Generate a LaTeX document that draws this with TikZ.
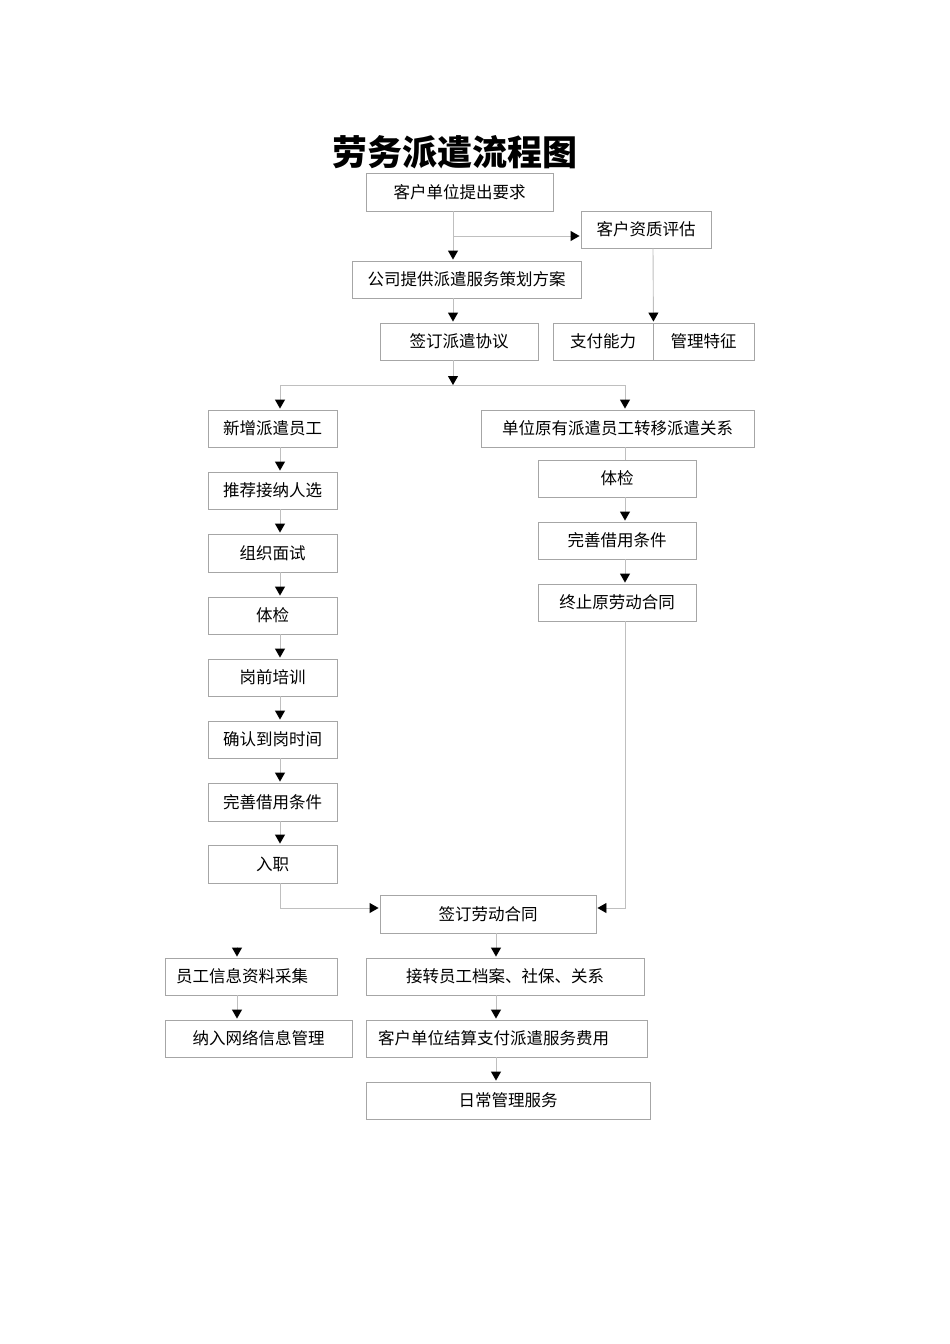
\documentclass[tikz,border=0pt]{standalone}
\usepackage{fontspec}
\setmainfont{Noto Sans CJK SC}
\newfontfamily\cjk{Noto Sans CJK SC}
\usetikzlibrary{arrows.meta}
\definecolor{boxline}{HTML}{A6A6A6}
\definecolor{conn}{HTML}{BFBFBF}
\tikzset{
  box/.style={draw=boxline, line width=0.9pt, inner sep=0pt, minimum height=37pt, font=\cjk\fontsize{16.5}{18}\selectfont},
  arr/.style={draw=conn, line width=0.9pt, -{Triangle[width=10pt,length=9pt,color=black,fill=black]}, shorten >=1pt},
  ln/.style={draw=conn, line width=0.9pt}
}
\begin{document}
\begin{tikzpicture}[x=1pt,y=-1pt]
\useasboundingbox (0,0) rectangle (950,1344);
\node[font=\cjk\bfseries\fontsize{35}{38}\selectfont] (title) at (455,152) {劳务派遣流程图};
\node[box, minimum width=187pt, minimum height=38pt] (n1) at (459.5,192) {客户单位提出要求};
\node[box, minimum width=130pt] (n2) at (646,229.5) {客户资质评估};
\node[box, minimum width=229pt] (n3) at (466.5,279.5) {公司提供派遣服务策划方案};
\node[box, minimum width=158pt] (n4) at (459,341.5) {签订派遣协议};
\node[box, minimum width=100pt] (n5a) at (603,341.5) {支付能力};
\node[box, minimum width=101pt] (n5b) at (703.5,341.5) {管理特征};
\node[box, minimum width=129pt] (n6) at (272.5,428.5) {新增派遣员工};
\node[box, minimum width=273pt] (n7) at (617.5,428.5) {单位原有派遣员工转移派遣关系};
\node[box, minimum width=129pt] (n8) at (272.5,490.5) {推荐接纳人选};
\node[box, minimum width=158pt] (n9) at (617,478.5) {体检};
\node[box, minimum width=129pt, minimum height=38pt] (n10) at (272.5,553) {组织面试};
\node[box, minimum width=158pt] (n11) at (617,540.5) {完善借用条件};
\node[box, minimum width=129pt] (n12) at (272.5,615.5) {体检};
\node[box, minimum width=158pt] (n13) at (617,602.5) {终止原劳动合同};
\node[box, minimum width=129pt] (n14) at (272.5,677.5) {岗前培训};
\node[box, minimum width=129pt] (n15) at (272.5,739.5) {确认到岗时间};
\node[box, minimum width=129pt, minimum height=38pt] (n16) at (272.5,802) {完善借用条件};
\node[box, minimum width=129pt, minimum height=38pt] (n17) at (272.5,864) {入职};
\node[box, minimum width=216pt, minimum height=38pt] (n18) at (488,914) {签订劳动合同};
\node[box, minimum width=172pt, text width=150pt, align=left] (n19) at (251,976.5) {员工信息资料采集};
\node[box, minimum width=278pt] (n20) at (505,976.5) {接转员工档案、社保、关系};
\node[box, minimum width=187pt] (n21) at (258.5,1038.5) {纳入网络信息管理};
\node[box, minimum width=281pt, text width=257pt, align=left] (n22) at (506.5,1038.5) {客户单位结算支付派遣服务费用};
\node[box, minimum width=284pt] (n23) at (508,1100.5) {日常管理服务};
% helper coordinates
\coordinate (xA) at (453,0);
\coordinate (xB) at (653,0);
\coordinate (xL) at (280,0);
\coordinate (xR) at (625,0);
\coordinate (xM) at (496,0);
\coordinate (xS) at (237,0);
\coordinate (yT) at (0,236);
\coordinate (yS) at (0,385);
\coordinate (yC) at (0,908);
\coordinate (split) at (453,385);
\coordinate (free) at (237,947);
% connectors
\draw[arr] (n1.south -| xA) -- (n3.north -| xA);
\draw[arr] (xA |- yT) -- (n2.west |- yT);
\draw[arr] (n2.south -| xB) -- (n5a.north east);
\draw[arr] (n3.south -| xA) -- (n4.north -| xA);
\draw[arr, shorten >=0pt] (n4.south -| xA) -- (split);
\draw[ln] (xL |- yS) -- (xR |- yS);
\draw[arr] (xL |- yS) -- (n6.north -| xL);
\draw[arr] (xR |- yS) -- (n7.north -| xR);
\draw[arr] (n6.south -| xL) -- (n8.north -| xL);
\draw[arr] (n8.south -| xL) -- (n10.north -| xL);
\draw[arr] (n10.south -| xL) -- (n12.north -| xL);
\draw[arr] (n12.south -| xL) -- (n14.north -| xL);
\draw[arr] (n14.south -| xL) -- (n15.north -| xL);
\draw[arr] (n15.south -| xL) -- (n16.north -| xL);
\draw[arr] (n16.south -| xL) -- (n17.north -| xL);
\draw[ln] (n7.south -| xR) -- (n9.north -| xR);
\draw[arr] (n9.south -| xR) -- (n11.north -| xR);
\draw[arr] (n11.south -| xR) -- (n13.north -| xR);
\draw[arr] (n17.south -| xL) |- (n18.west |- yC);
\draw[arr] (n13.south -| xR) |- (n18.east |- yC);
\draw[arr] (n18.south -| xM) -- (n20.north -| xM);
\draw[arr] (n20.south -| xM) -- (n22.north -| xM);
\draw[arr] (n22.south -| xM) -- (n23.north -| xM);
\draw[arr] (free) -- (n19.north -| xS);
\draw[arr] (n19.south -| xS) -- (n21.north -| xS);
\end{tikzpicture}
\end{document}
